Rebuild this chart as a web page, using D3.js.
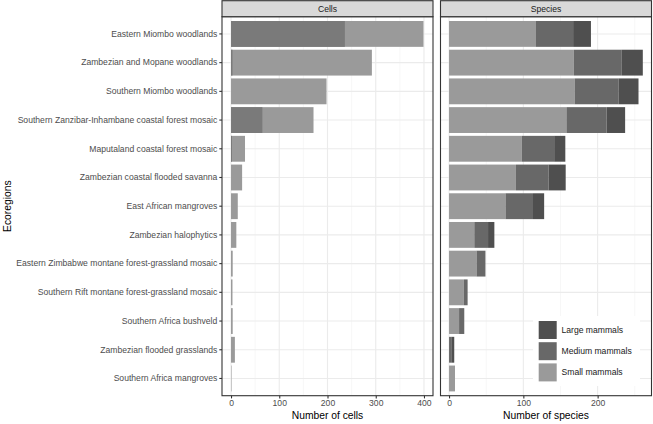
<!DOCTYPE html>
<html><head><meta charset="utf-8">
<script src="https://cdn.jsdelivr.net/npm/d3@7"></script>
<style>body{margin:0;background:#fff}svg{display:block;font-family:"Liberation Sans",Arial,sans-serif}</style>
</head><body><svg id="c" width="653" height="424"></svg>
<script>
const ecoregions = ["Eastern Miombo woodlands","Zambezian and Mopane woodlands","Southern Miombo woodlands","Southern Zanzibar-Inhambane coastal forest mosaic","Maputaland coastal forest mosaic","Zambezian coastal flooded savanna","East African mangroves","Zambezian halophytics","Eastern Zimbabwe montane forest-grassland mosaic","Southern Rift montane forest-grassland mosaic","Southern Africa bushveld","Zambezian flooded grasslands","Southern Africa mangroves"];
// Cells panel: total cells and the overlaid (darker) part
const cellsTotal = [399, 292, 198, 171, 29, 23, 14, 11, 3.5, 3, 3.5, 8, 1];
const cellsOverlap = [236, 3, 0, 65, 2, 0, 0, 0, 0, 0, 0, 0, 0];
// Species panel
const smallSpecies  = [117, 168, 169, 158, 98, 90, 76, 34, 37, 20, 13.5, 0, 8];
const mediumSpecies = [50, 64.5, 59, 54, 43.5, 44, 37, 18.5, 12, 5, 7, 3, 0];
const largeSpecies  = [24, 28.3, 27, 25, 15, 23, 15, 8.5, 0, 0, 0, 4, 0];
const groups = ["Large mammals","Medium mammals","Small mammals"];
const cellTicks = [0,100,200,300,400];
const speciesTicks = [0,100,200];

const colors = {"Large mammals":"#4f4f4f","Medium mammals":"#686868","Small mammals":"#9a9a9a"};
const overlapColor = "#7a7a7a";
const FS = 8.6;

const svg = d3.select("#c");
const pTop = 16.7, pBottom = 395.7;
const y = d3.scaleBand().domain(ecoregions).range([pTop,pBottom]).paddingInner(0.1).paddingOuter(0.15);

const panels = [
  {title:"Cells", x0:222, x1:433, domain:[-18.7,418.7], ticks:cellTicks, minor:[50,150,250,350], xlab:"Number of cells"},
  {title:"Species", x0:440.5, x1:651.5, domain:[-11.5,272.5], ticks:speciesTicks, minor:[50,150,250], xlab:"Number of species"}
];

panels.forEach(p=>{
  p.x = d3.scaleLinear().domain(p.domain).range([p.x0,p.x1]);
  const g = svg.append("g");
  g.append("rect").attr("x",p.x0).attr("y",pTop).attr("width",p.x1-p.x0).attr("height",pBottom-pTop).attr("fill","#fff");
  g.selectAll(".mn").data(p.minor).join("line").attr("x1",d=>p.x(d)).attr("x2",d=>p.x(d)).attr("y1",pTop).attr("y2",pBottom).attr("stroke","#f2f2f2").attr("stroke-width",0.6);
  g.selectAll(".mj").data(p.ticks).join("line").attr("x1",d=>p.x(d)).attr("x2",d=>p.x(d)).attr("y1",pTop).attr("y2",pBottom).attr("stroke","#ebebeb").attr("stroke-width",1.1);
  g.selectAll(".hy").data(ecoregions).join("line").attr("x1",p.x0).attr("x2",p.x1).attr("y1",d=>y(d)+y.bandwidth()/2).attr("y2",d=>y(d)+y.bandwidth()/2).attr("stroke","#ebebeb").attr("stroke-width",1.1);
  p.g = g;
});

// Cells bars
const pc = panels[0];
pc.g.selectAll(".ct").data(ecoregions).join("rect")
  .attr("x",pc.x(0)).attr("y",d=>y(d)).attr("height",y.bandwidth())
  .attr("width",(d,i)=>pc.x(cellsTotal[i])-pc.x(0)).attr("fill",colors["Small mammals"]);
pc.g.selectAll(".co").data(ecoregions).join("rect")
  .attr("x",pc.x(0)).attr("y",d=>y(d)).attr("height",y.bandwidth())
  .attr("width",(d,i)=>pc.x(cellsOverlap[i])-pc.x(0)).attr("fill",overlapColor);

// Species stacked bars
const ps = panels[1];
const rows = ecoregions.map((e,i)=>({e, "Small mammals":smallSpecies[i], "Medium mammals":mediumSpecies[i], "Large mammals":largeSpecies[i]}));
const stack = d3.stack().keys(["Small mammals","Medium mammals","Large mammals"])(rows);
stack.forEach(layer=>{
  ps.g.selectAll(null).data(layer).join("rect")
    .attr("x",d=>ps.x(d[0])).attr("y",d=>y(d.data.e)).attr("height",y.bandwidth())
    .attr("width",d=>Math.max(0,ps.x(d[1])-ps.x(d[0]))).attr("fill",colors[layer.key]);
});

// Legend
const lg = svg.append("g");
lg.append("rect").attr("x",533).attr("y",316).attr("width",107).attr("height",70).attr("fill","#fff");
groups.forEach((k,i)=>{
  const yy = 321 + i*21.2;
  lg.append("rect").attr("x",538.7).attr("y",yy).attr("width",18).attr("height",18).attr("fill",colors[k]);
  lg.append("text").attr("x",561.5).attr("y",yy+9).attr("dy","0.35em").attr("font-size",FS).attr("fill","#1a1a1a").text(k);
});

// Borders, strips, axes
panels.forEach(p=>{
  svg.append("rect").attr("x",p.x0).attr("y",pTop).attr("width",p.x1-p.x0).attr("height",pBottom-pTop).attr("fill","none").attr("stroke","#333").attr("stroke-width",1.1);
  svg.append("rect").attr("x",p.x0).attr("y",0.7).attr("width",p.x1-p.x0).attr("height",pTop-0.7).attr("fill","#d9d9d9").attr("stroke","#333").attr("stroke-width",1.1);
  svg.append("text").attr("x",(p.x0+p.x1)/2).attr("y",(pTop+0.7)/2).attr("dy","0.35em").attr("text-anchor","middle").attr("font-size",FS).attr("fill","#1a1a1a").text(p.title);
  const ax = svg.append("g").attr("transform",`translate(0,${pBottom})`)
    .call(d3.axisBottom(p.x).tickValues(p.ticks).tickSize(2.7).tickPadding(2));
  ax.select(".domain").remove();
  ax.selectAll(".tick line").attr("stroke","#333").attr("stroke-width",1.1);
  ax.selectAll(".tick text").attr("font-size",FS).attr("fill","#4d4d4d").attr("font-family","Liberation Sans, Arial, sans-serif");
  svg.append("text").attr("x",(p.x0+p.x1)/2).attr("y",418.5).attr("text-anchor","middle").attr("font-size",10.3).attr("fill","#000").text(p.xlab);
});

// Y axis
const ay = svg.append("g").attr("transform",`translate(${panels[0].x0},0)`)
  .call(d3.axisLeft(y).tickSize(2.7).tickPadding(2));
ay.select(".domain").remove();
ay.selectAll(".tick line").attr("stroke","#333").attr("stroke-width",1.1);
ay.selectAll(".tick text").attr("font-size",FS).attr("fill","#4d4d4d").attr("font-family","Liberation Sans, Arial, sans-serif");
svg.append("text").attr("transform",`translate(11,${(pTop+pBottom)/2}) rotate(-90)`).attr("text-anchor","middle").attr("font-size",10.3).attr("fill","#000").text("Ecoregions");
</script></body></html>
